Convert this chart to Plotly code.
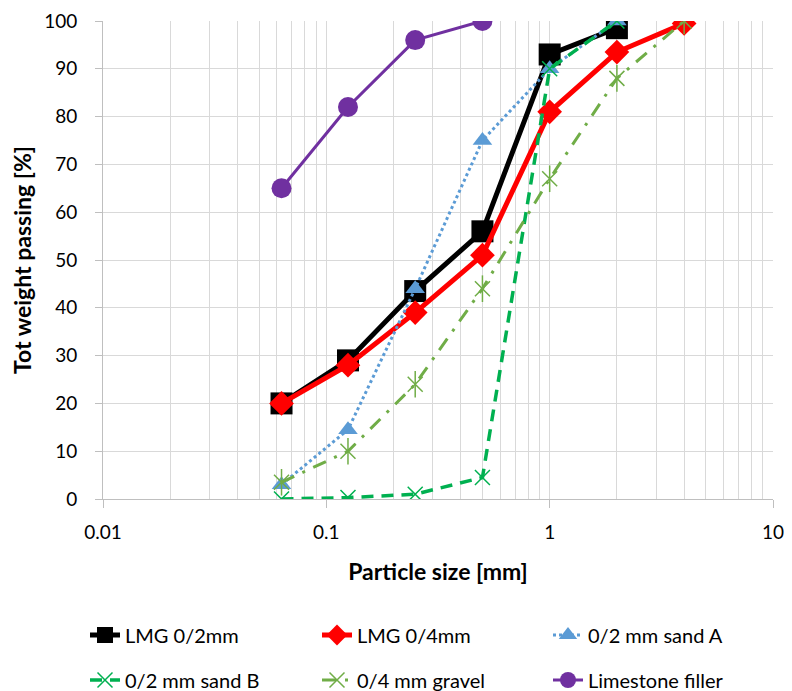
import plotly.graph_objects as go

sizes = [0.063, 0.125, 0.25, 0.5, 1, 2, 4]

lmg_02 = [20, 29, 43.5, 56, 93, 98.5]
lmg_04 = [20, 28, 39, 51, 81, 93.5, 99.5]
sand_a = [3, 14.5, 44, 75, 90, 100]
sand_b = [0, 0.3, 1, 4.5, 90, 100]
gravel = [3.5, 10, 24, 44, 67, 88, 100]
filler = [65, 82, 96, 100]

x_ticks = [0.01, 0.1, 1, 10]
x_ticktext = ["0.01", "0.1", "1", "10"]
y_ticks = [0, 10, 20, 30, 40, 50, 60, 70, 80, 90, 100]

FONT = "Lato"
W, H = 784, 683  # page body adds an 8px offset

fig = go.Figure()

fig.add_trace(go.Scatter(
    x=sizes[:len(lmg_02)], y=lmg_02, name="LMG 0/2mm", mode="lines+markers",
    line=dict(color="#000000", width=5),
    marker=dict(symbol="square", size=22, color="#000000"),
    legend="legend"))
fig.add_trace(go.Scatter(
    x=sizes[:len(lmg_04)], y=lmg_04, name="LMG 0/4mm", mode="lines+markers",
    line=dict(color="#FF0000", width=5),
    marker=dict(symbol="diamond", size=19, color="#FF0000"),
    legend="legend2"))
fig.add_trace(go.Scatter(
    x=sizes[:len(sand_a)], y=sand_a, name="0/2 mm sand A", mode="lines+markers",
    line=dict(color="#5B9BD5", width=3, dash="dot"),
    marker=dict(symbol="triangle-up", size=17, color="#5B9BD5"),
    legend="legend3"))
fig.add_trace(go.Scatter(
    x=sizes[:len(sand_b)], y=sand_b, name="0/2 mm sand B", mode="lines+markers",
    line=dict(color="#00B050", width=3.5, dash="12px,8px"),
    marker=dict(symbol="x-thin-open", size=15, color="#00B050",
                line=dict(color="#00B050", width=1.5)),
    legend="legend4"))
fig.add_trace(go.Scatter(
    x=sizes[:len(gravel)], y=gravel, name="0/4 mm gravel", mode="lines+markers",
    line=dict(color="#70AD47", width=3, dash="14px,9px,3px,9px"),
    marker=dict(symbol="x-thin-open", size=15, color="#70AD47",
                line=dict(color="#70AD47", width=1.5)),
    legendgroup="gravel", legend="legend5"))
fig.add_trace(go.Scatter(
    x=sizes[:len(gravel)], y=gravel, name="0/4 mm gravel", mode="markers",
    marker=dict(symbol="line-ns-open", size=19, color="#70AD47",
                line=dict(color="#70AD47", width=1.5)),
    legendgroup="gravel", showlegend=False, legend="legend5"))
fig.add_trace(go.Scatter(
    x=sizes[:len(filler)], y=filler, name="Limestone filler", mode="lines+markers",
    line=dict(color="#7030A0", width=3),
    marker=dict(symbol="circle", size=20, color="#7030A0"),
    legend="legend6"))


def legend_at(x_px, y_px):
    return dict(
        orientation="h", xref="container", yref="container",
        xanchor="left", yanchor="middle",
        x=x_px / W, y=1 - y_px / H,
        font=dict(family=FONT, size=20, color="#000000"),
        bgcolor="rgba(0,0,0,0)",
    )


col_x = [77, 309, 540]
row_y = [627, 672]

fig.update_layout(
    width=W, height=H,
    margin=dict(l=95, r=19, t=13, b=192, autoexpand=False),
    paper_bgcolor="white", plot_bgcolor="white",
    font=dict(family=FONT, size=19, color="#000000"),
    showlegend=True,
    legend=legend_at(col_x[0], row_y[0]),
    legend2=legend_at(col_x[1], row_y[0]),
    legend3=legend_at(col_x[2], row_y[0]),
    legend4=legend_at(col_x[0], row_y[1]),
    legend5=legend_at(col_x[1], row_y[1]),
    legend6=legend_at(col_x[2], row_y[1]),
    xaxis=dict(
        type="log", range=[-2, 1],
        tickvals=x_ticks, ticktext=x_ticktext,
        showgrid=True, gridcolor="#D9D9D9", gridwidth=1,
        minor=dict(showgrid=True, gridcolor="#D9D9D9", gridwidth=1, dtick="D1", ticks=""),
        showline=True, linecolor="#BFBFBF", linewidth=1,
        ticks="outside", ticklen=8, tickcolor="#BFBFBF",
        tickfont=dict(family=FONT, size=19),
        ticklabelstandoff=8,
        zeroline=False,
        title=dict(text="<b>Particle size [mm]</b>", font=dict(family=FONT, size=23), standoff=22),
    ),
    yaxis=dict(
        range=[0, 100], tickvals=y_ticks,
        showgrid=True, gridcolor="#D9D9D9", gridwidth=1,
        showline=True, linecolor="#BFBFBF", linewidth=1,
        ticks="outside", ticklen=7, tickcolor="#BFBFBF",
        tickfont=dict(family=FONT, size=19),
        ticklabelstandoff=14,
        zeroline=False,
        title=dict(text="<b>Tot weight passing [%]</b>", font=dict(family=FONT, size=23), standoff=10),
    ),
)

fig.write_html("out.html")
